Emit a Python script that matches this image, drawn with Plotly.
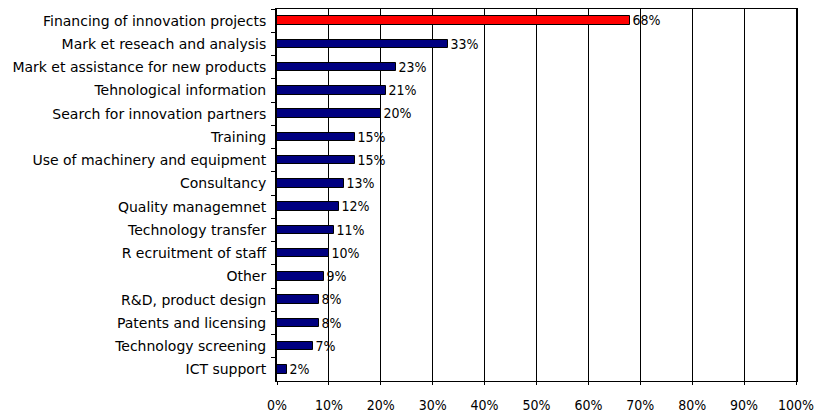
import plotly.graph_objects as go

# Support measures requested by firms, top to bottom
categories = [
    "Financing of innovation projects",
    "Mark et reseach and analysis",
    "Mark et assistance for new products",
    "Tehnological information",
    "Search for innovation partners",
    "Training",
    "Use of machinery and equipment",
    "Consultancy",
    "Quality managemnet",
    "Technology transfer",
    "R ecruitment of staff",
    "Other",
    "R&D, product design",
    "Patents and licensing",
    "Technology screening",
    "ICT support",
]
values = [68, 33, 23, 21, 20, 15, 15, 13, 12, 11, 10, 9, 8, 8, 7, 2]
highlight = "Financing of innovation projects"

tick_vals = [0, 10, 20, 30, 40, 50, 60, 70, 80, 90, 100]
tick_text = [f"{v}%" for v in tick_vals]

colors = ["#FF0000" if c == highlight else "#000080" for c in categories]

narrow_font = "Liberation Sans Narrow, DejaVu Sans Condensed, sans-serif"

fig = go.Figure(
    go.Bar(
        x=values,
        y=categories,
        orientation="h",
        width=0.36,
        marker=dict(color=colors, line=dict(color="#000000", width=1)),
        text=[f"{v}%" for v in values],
        textposition="outside",
        constraintext="none",
        cliponaxis=False,
        textfont=dict(family=narrow_font, size=14, color="#000000"),
    )
)

fig.update_layout(
    width=816,
    height=416,
    margin=dict(l=277, r=20, t=9, b=35),
    paper_bgcolor="#FFFFFF",
    plot_bgcolor="#FFFFFF",
    showlegend=False,
    bargap=0,
    font=dict(family="DejaVu Sans, sans-serif", size=14, color="#000000"),
)

fig.update_xaxes(
    range=[0, 100],
    tickvals=tick_vals,
    ticktext=tick_text,
    automargin=False,
    showgrid=True,
    gridcolor="#000000",
    gridwidth=1,
    zeroline=False,
    showline=True,
    linecolor="#000000",
    linewidth=1,
    mirror=True,
    ticks="outside",
    ticklen=3,
    tickcolor="#000000",
    tickfont=dict(family=narrow_font, size=14),
    ticklabelstandoff=8,
    ticklabeloverflow="allow",
)

fig.update_yaxes(
    categoryorder="array",
    categoryarray=categories,
    range=[15.5, -0.5],
    automargin=False,
    showline=True,
    linecolor="#000000",
    linewidth=2,
    mirror=True,
    ticks="outside",
    ticklen=4,
    tickson="boundaries",
    tickcolor="#000000",
    tickfont=dict(family="DejaVu Sans, sans-serif", size=14),
    ticklabelstandoff=6,
)

fig.write_html("out.html")
